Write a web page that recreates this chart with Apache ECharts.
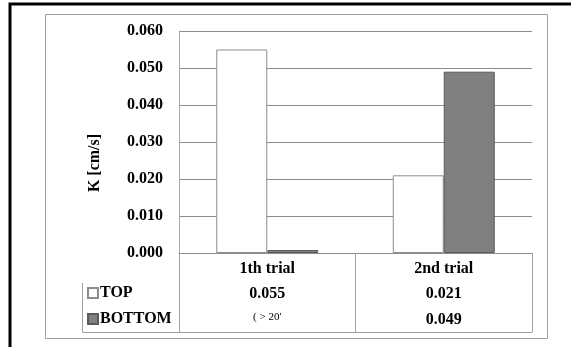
<!DOCTYPE html>
<html>
<head>
<meta charset="utf-8">
<script src="https://cdn.jsdelivr.net/npm/echarts@6/dist/echarts.min.js"></script>
<style>
  html, body { margin: 0; padding: 0; background: #fff; }
  #chart { width: 571px; height: 347px; }
</style>
</head>
<body>
<div id="chart"></div>
<script>
// Permeability by trial, top and bottom samples
const categories = ['1th trial', '2nd trial'];
const seriesNames = ['TOP', 'BOTTOM'];
const topValues = [0.055, 0.021];
const bottomValues = [0.0008, 0.049];
const bottomLabels = ["( > 20'", '0.049'];
const yTicks = [0, 0.01, 0.02, 0.03, 0.04, 0.05, 0.06];

const FONT = '"Liberation Serif", "Times New Roman", serif';
const GRID = { left: 179, right: 39, top: 31, bottom: 94 };
const tableBottom = 332.5;
const legendLeft = 82.5;

const chart = echarts.init(document.getElementById('chart'), null, { renderer: 'canvas' });

const boldText = { fontFamily: FONT, fontWeight: 'bold', fontSize: 16, color: '#000' };

chart.setOption({
  animation: false,
  backgroundColor: '#fff',
  grid: GRID,
  legend: {
    data: seriesNames,
    orient: 'vertical',
    left: 87,
    top: 285,
    padding: 0,
    itemWidth: 10,
    itemHeight: 10,
    itemGap: 10,
    icon: 'rect',
    textStyle: Object.assign({}, boldText, { fontSize: 16, padding: [0, 0, 0, -3] })
  },
  xAxis: [
    {
      type: 'category',
      data: categories,
      position: 'bottom',
      axisLine: { show: true, lineStyle: { color: '#8c8c8c', width: 1 } },
      axisTick: { show: true, length: tableBottom - (347 - GRID.bottom), lineStyle: { color: '#a0a0a0' } },
      axisLabel: Object.assign({}, boldText, { margin: 8 }),
      splitLine: { show: false }
    },
    {
      type: 'category',
      data: categories,
      position: 'bottom',
      offset: 25,
      axisLine: { show: false },
      axisTick: { show: false },
      axisLabel: Object.assign({}, boldText, {
        margin: 8,
        formatter: (v, i) => topValues[i].toFixed(3)
      })
    },
    {
      type: 'category',
      data: categories,
      position: 'bottom',
      offset: 51,
      axisLine: { show: false },
      axisTick: { show: false },
      axisLabel: Object.assign({}, boldText, {
        margin: 8,
        formatter: (v, i) => bottomLabels[i] === '0.049' ? bottomValues[i].toFixed(3) : '{s|' + bottomLabels[i] + '}',
        rich: { s: { fontFamily: FONT, fontSize: 11, fontWeight: 'normal', color: '#000' } }
      })
    }
  ],
  yAxis: {
    type: 'value',
    min: yTicks[0],
    max: yTicks[yTicks.length - 1],
    interval: 0.01,
    axisLine: { show: true, lineStyle: { color: '#a8a8a8', width: 1 } },
    axisTick: { show: false },
    axisLabel: Object.assign({}, boldText, {
      margin: 16,
      formatter: v => v.toFixed(3)
    }),
    splitLine: { show: true, lineStyle: { color: '#8c8c8c', width: 1 } }
  },
  series: [
    {
      name: 'TOP',
      type: 'bar',
      xAxisIndex: 0,
      data: topValues,
      barWidth: 51,
      barGap: '0%',
      itemStyle: { color: '#ffffff', borderColor: '#8c8c8c', borderWidth: 1 }
    },
    {
      name: 'BOTTOM',
      type: 'bar',
      xAxisIndex: 0,
      data: bottomValues,
      barWidth: 51,
      barGap: '0%',
      itemStyle: { color: '#808080', borderColor: '#5a5a5a', borderWidth: 1 }
    }
  ],
  graphic: [
    // page frame
    {
      type: 'rect', silent: true, z: 100,
      shape: { x: 10, y: 4, width: 700, height: 500 },
      style: { fill: null, stroke: '#000', lineWidth: 3 }
    },
    // chart area frame
    {
      type: 'rect', silent: true, z: 100,
      shape: { x: 45.5, y: 14.5, width: 502, height: 324 },
      style: { fill: null, stroke: '#a0a0a0', lineWidth: 1 }
    },
    // data table: legend column edge and bottom rule
    {
      type: 'polyline', silent: true, z: 100,
      shape: { points: [[legendLeft, 283], [legendLeft, tableBottom], [571 - GRID.right, tableBottom]] },
      style: { fill: null, stroke: '#a0a0a0', lineWidth: 1 }
    },
    // y-axis title
    {
      type: 'text', silent: true, z: 100,
      x: 95, y: 163, rotation: Math.PI / 2,
      style: {
        text: 'K [cm/s]',
        font: 'bold 16px ' + FONT,
        fill: '#000',
        align: 'center',
        verticalAlign: 'middle'
      }
    }
  ]
});
</script>
</body>
</html>
